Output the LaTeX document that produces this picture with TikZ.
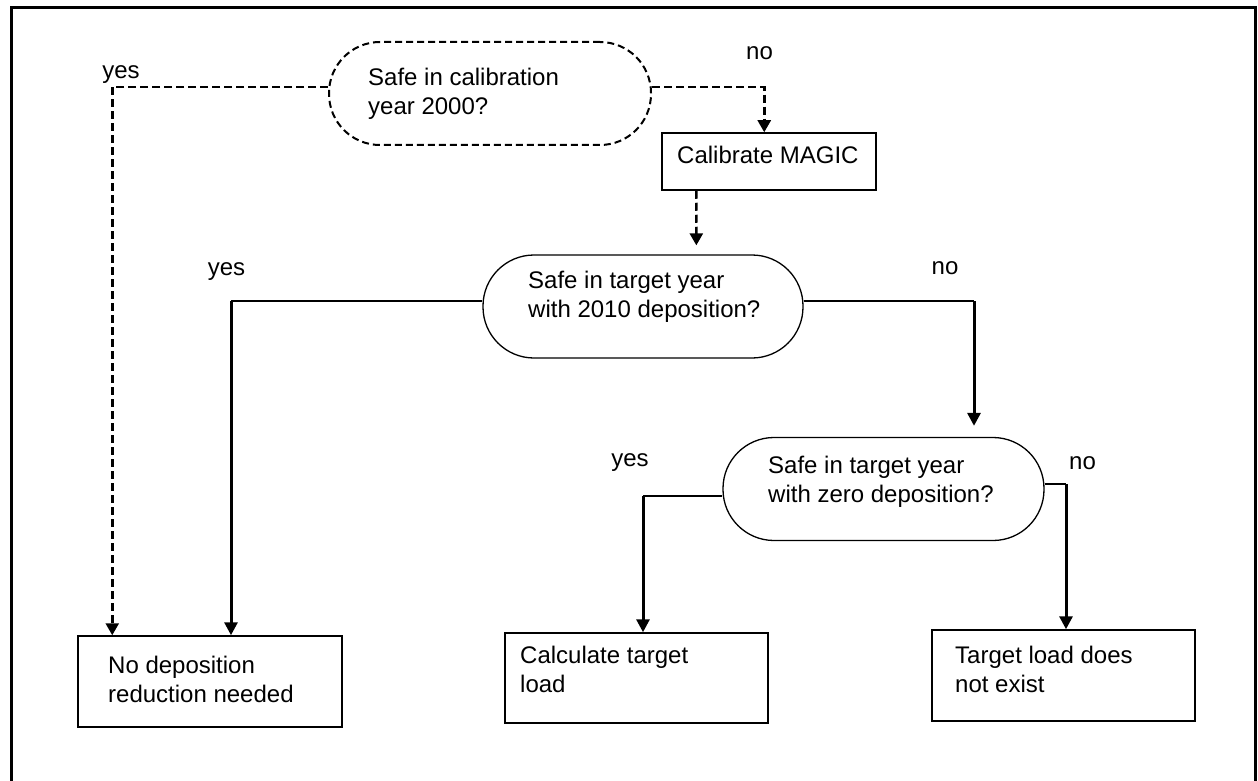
\documentclass[tikz,border=0pt]{standalone}
\usepackage{fontspec}
\setmainfont{Liberation Sans}
\usetikzlibrary{arrows.meta}
\begin{document}
\begin{tikzpicture}[x=1pt,y=-1pt,
  every node/.style={font=\fontsize{24pt}{29pt}\selectfont},
  stadium/.style={draw, line width=1.3pt, rounded corners=51pt, minimum height=103pt, inner sep=0pt},
  dstadium/.style={stadium, line width=2pt, dash pattern=on 7pt off 4pt},
  box/.style={draw, line width=1.5pt, inner sep=0pt},
  txt/.style={inner sep=0pt, align=left, anchor=base west},
  lbl/.style={inner sep=0pt},
  conn/.style={line width=1.3pt},
  arr/.style={line width=3pt, -{Triangle[length=13pt,width=13pt]}},
  darr/.style={line width=2.5pt, dash pattern=on 8pt off 4pt, -{Triangle[length=12pt,width=13pt]}}]
\path[use as bounding box] (0,0) rectangle (1258,781);
\clip (0,0) rectangle (1258,781);
% frame
\draw[line width=3pt] (11.5,795) -- (11.5,7.5) -- (1255,7.5) -- (1255,795);
% shapes (base anchor of multi-line text = baseline of last line)
\node[dstadium, minimum width=322pt] (s1) at (490,93.5) {};
\node[txt] (s1t) at (368,114.7) {Safe in calibration\\year 2000?};
\node[box, minimum width=214pt, minimum height=57pt] (cal) at (769,161.5) {};
\node[txt] (calt) at (677,163.7) {Calibrate MAGIC};
\node[stadium, minimum width=320pt] (s2) at (643,306.5) {};
\node[txt] (s2t) at (528,317) {Safe in target year\\with 2010 deposition?};
\node[stadium, minimum width=321pt] (s3) at (883.5,489) {};
\node[txt] (s3t) at (768,502) {Safe in target year\\with zero deposition?};
\node[box, minimum width=264pt, minimum height=91pt] (nodep) at (210,681.5) {};
\node[txt] (nodept) at (108,702) {No deposition\\reduction needed};
\node[box, minimum width=263pt, minimum height=90pt] (calc) at (636.5,678) {};
\node[txt] (calct) at (520,692) {Calculate target\\load};
\node[box, minimum width=263pt, minimum height=91pt] (tgt) at (1063.5,675.5) {};
\node[txt] (tgtt) at (955,692) {Target load does\\not exist};
% labels
\node[lbl] (yes1) at (121,75) {yes};
\node[lbl] (no1) at (759.5,53) {no};
\node[lbl] (yes2) at (226.5,272) {yes};
\node[lbl] (no2) at (945,268) {no};
\node[lbl] (yes3) at (630,463) {yes};
\node[lbl] (no3) at (1082.5,463) {no};
% connectors
\draw[darr] ([yshift=6.5pt]s1.west) -| ([xshift=35pt]nodep.north west);
\draw[darr] ([yshift=6.5pt]s1.east) -| ([xshift=103pt]cal.north west);
\draw[darr] ([xshift=35pt]cal.south west) -- ([shift={(214pt,9pt)}]s2.north west);
\coordinate (k2) at (231,301);
\draw[conn] ([yshift=5.5pt]s2.west) -- (k2);
\draw[arr] (k2) -- (k2 |- nodep.north);
\coordinate (k3) at (974,301);
\draw[conn] ([yshift=5.5pt]s2.east) -- (k3);
\draw[arr, shorten >=11pt] (k3) -- (k3 |- s3.north);
\coordinate (k4) at (643,496);
\draw[conn] ([yshift=-7pt]s3.west) -- (k4);
\draw[arr] (k4) -- (k4 |- calc.north);
\coordinate (k5) at (1066,484);
\draw[conn] ([yshift=5pt]s3.east) -- (k5);
\draw[arr] (k5) -- (k5 |- tgt.north);
\end{tikzpicture}
\end{document}
